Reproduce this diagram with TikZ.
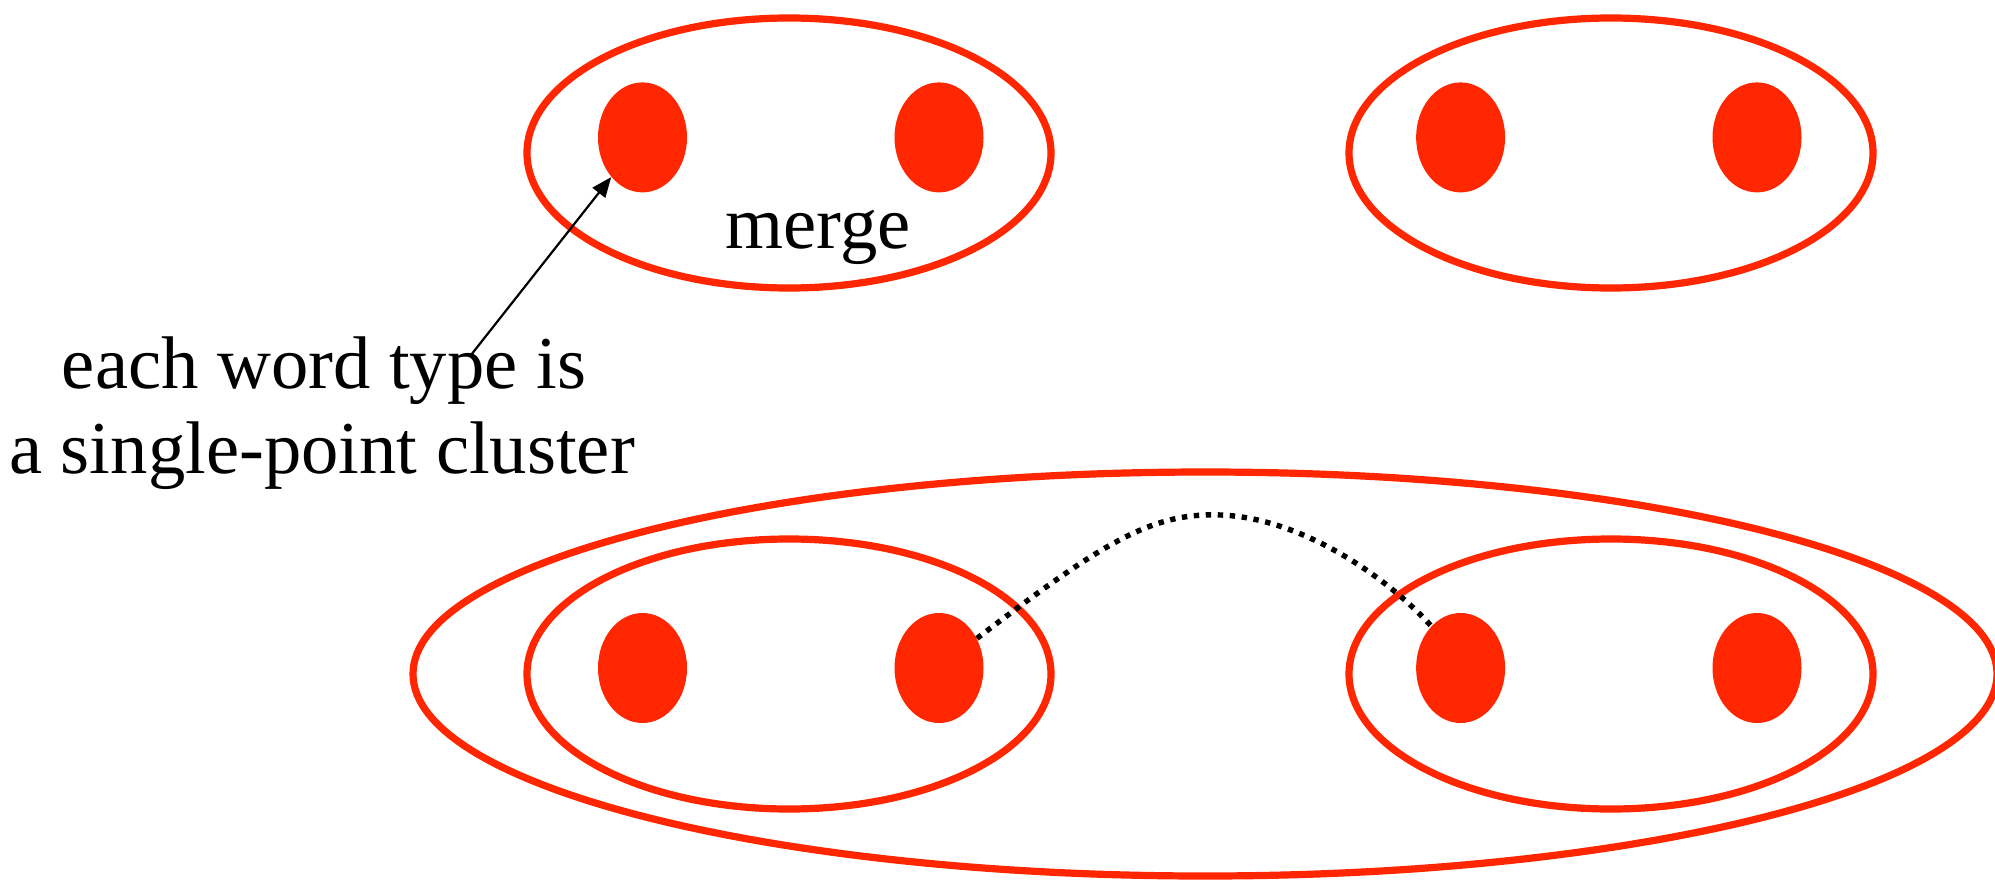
\documentclass[tikz,border=0pt]{standalone}
\usepackage{fontspec}
\setmainfont{Liberation Serif}
\usetikzlibrary{shapes.geometric,arrows.meta}
\definecolor{clr}{RGB}{255,38,0}
\begin{document}
\begin{tikzpicture}[x=0.5pt,y=-0.5pt,
  ring/.style={ellipse,draw=clr,line width=3.6pt,inner sep=0pt},
  cluster/.style={ring,minimum width=262pt,minimum height=135pt},
  bigring/.style={ring,minimum width=792pt,minimum height=202pt},
  pt/.style={ellipse,fill=clr,inner sep=0pt,minimum width=44.5pt,minimum height=55pt},
  lbl/.style={font=\fontsize{37.3}{43}\selectfont,inner sep=0pt,anchor=base}]
\useasboundingbox (0,0) rectangle (1995,883);
% top clusters
\node[cluster] (c1) at (789,153) {};
\node[cluster] (c2) at (1611,153) {};
\node[pt] (a1) at (642.5,137.4) {};
\node[pt] (a2) at (939,137.4) {};
\node[pt] (a3) at (1460.6,137.4) {};
\node[pt] (a4) at (1757,137.4) {};
\node[lbl] (merge) at (818,248) {merge};
% bottom
\node[bigring] (big) at (1205,674) {};
\node[cluster] (c3) at (789,674) {};
\node[cluster] (c4) at (1611,674) {};
\node[pt] (b1) at (642.5,668) {};
\node[pt] (b2) at (939,668) {};
\node[pt] (b3) at (1460.6,668) {};
\node[pt] (b4) at (1757,668) {};
% label and arrow
\node[lbl] (l1) at (324,388) {each word type is};
\node[lbl] (l2) at (322,473) {a single-point cluster};
\coordinate (as) at (471,355);
\draw[line width=1.1pt,-{Triangle[length=10pt,width=8pt]}] (as) -- (a1);
% dotted link
\draw[line width=2.7pt,dash pattern=on 2.7pt off 3.3pt] (b2.38) .. controls (1100,545) and (1150,512) .. (1221,515) .. controls (1300,518) and (1385,575) .. (b3.125);
\end{tikzpicture}
\end{document}
